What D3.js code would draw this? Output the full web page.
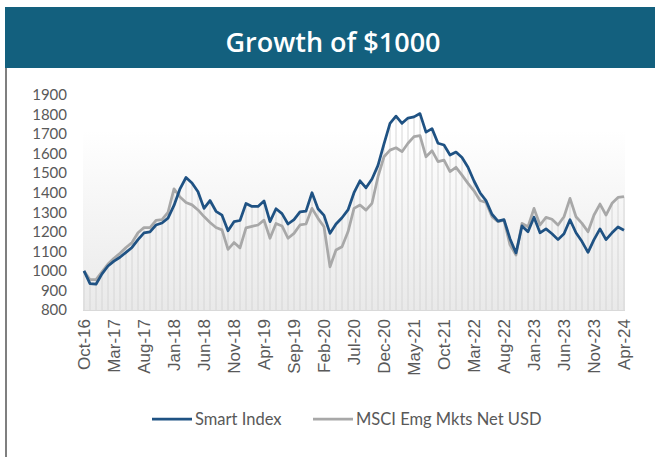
<!DOCTYPE html>
<html>
<head>
<meta charset="utf-8">
<script src="https://cdn.jsdelivr.net/npm/d3@7"></script>
<style>
  body { margin: 0; background: #fff; }
</style>
</head>
<body>
<div id="my_dataviz"></div>
<script>
// monthly values, Oct-16 .. Apr-24
var smartIndex = [1000,935,932,985,1025,1050,1070,1095,1120,1160,
  1195,1200,1235,1245,1270,1335,1420,1478,1450,1405,
  1320,1360,1305,1285,1205,1252,1258,1345,1330,1330,
  1358,1252,1318,1293,1240,1262,1302,1306,1400,1318,
  1284,1192,1240,1272,1312,1400,1461,1425,1470,1540,
  1650,1755,1792,1755,1782,1788,1805,1710,1728,1653,
  1644,1593,1608,1580,1530,1460,1400,1360,1290,1255,
  1262,1165,1092,1230,1200,1275,1195,1215,1190,1160,
  1190,1262,1195,1150,1095,1160,1215,1160,1195,1225,1208];

var msciEM = [1000,955,955,995,1035,1065,1090,1120,1145,1195,
  1222,1222,1258,1262,1300,1420,1378,1350,1338,1312,
  1278,1248,1222,1210,1110,1145,1118,1220,1228,1235,
  1260,1167,1243,1230,1167,1192,1235,1240,1320,1269,
  1226,1021,1107,1124,1200,1320,1337,1311,1346,1482,
  1584,1618,1630,1610,1653,1687,1692,1584,1615,1559,
  1567,1508,1530,1490,1448,1410,1360,1350,1277,1252,
  1260,1133,1081,1243,1226,1320,1235,1274,1264,1235,
  1277,1371,1277,1243,1200,1286,1342,1286,1346,1376,1380];

var tickLabels = ["Oct-16","Mar-17","Aug-17","Jan-18","Jun-18","Nov-18","Apr-19",
  "Sep-19","Feb-20","Jul-20","Dec-20","May-21","Oct-21","Mar-22","Aug-22",
  "Jan-23","Jun-23","Nov-23","Apr-24"];
var yTicks = [800,900,1000,1100,1200,1300,1400,1500,1600,1700,1800,1900];
var seriesNames = ["Smart Index", "MSCI Emg Mkts Net USD"];
var seriesColors = ["#1f5283", "#a8a8a8"];

var W = 655, H = 457;
var idx = smartIndex.map(function(d, i) { return i; });

var svg = d3.select("#my_dataviz")
  .append("svg")
    .attr("width", W)
    .attr("height", H);

// title bar + left frame line
svg.append("rect")
  .attr("x", 5).attr("y", 7)
  .attr("width", W - 5).attr("height", 61)
  .attr("fill", "#13607e");
svg.append("text")
  .attr("x", 333).attr("y", 52)
  .attr("text-anchor", "middle")
  .style("font-family", "Open Sans, sans-serif")
  .style("font-weight", 600)
  .style("font-size", "27px")
  .attr("fill", "#fff")
  .text("Growth of $1000");
svg.append("line")
  .attr("x1", 6).attr("x2", 6)
  .attr("y1", 68).attr("y2", H)
  .attr("stroke", "#7f7f7f")
  .attr("stroke-width", 2);

// scales
var x = d3.scalePoint()
  .domain(idx)
  .range([84, 624]);
var y = d3.scaleLinear()
  .domain([800, 1900])
  .range([310, 95]);

// plot area gradient
var defs = svg.append("defs");
var grad = defs.append("linearGradient")
  .attr("id", "bg")
  .attr("x1", 0).attr("y1", 0).attr("x2", 0).attr("y2", 1);
grad.append("stop").attr("offset", "0%").attr("stop-color", "#ffffff");
grad.append("stop").attr("offset", "100%").attr("stop-color", "#e9e9e9");

svg.append("rect")
  .attr("x", 83).attr("y", 130)
  .attr("width", 542).attr("height", y(800) - 130 + 1)
  .attr("fill", "url(#bg)");

// drop lines
svg.selectAll("dropLines")
  .data(idx)
  .enter()
  .append("line")
    .attr("x1", function(i) { return x(i) })
    .attr("x2", function(i) { return x(i) })
    .attr("y1", y(800))
    .attr("y2", function(i) { return y(Math.max(smartIndex[i], msciEM[i])) })
    .attr("stroke", "#d6d6d6")
    .attr("stroke-width", 1);

svg.append("line")
  .attr("x1", 83).attr("x2", 625)
  .attr("y1", y(800) + 0.5).attr("y2", y(800) + 0.5)
  .attr("stroke", "#d9d9d9");

// y axis labels
var yAxis = svg.append("g")
  .attr("transform", "translate(67,0)")
  .call(d3.axisLeft(y).tickValues(yTicks).tickSize(0).tickPadding(0).tickFormat(d3.format("d")));
yAxis.select(".domain").remove();
yAxis.selectAll("text")
  .style("font-family", "Lato, sans-serif")
  .style("font-size", "15px")
  .attr("fill", "#595959");

// x axis labels, every 5th month
var xAxis = svg.append("g")
  .attr("transform", "translate(0," + (y(800) + 9) + ")")
  .call(d3.axisBottom(x)
    .tickValues(idx.filter(function(i) { return i % 5 == 0 }))
    .tickSize(0)
    .tickFormat(function(i) { return tickLabels[i / 5] }));
xAxis.select(".domain").remove();
xAxis.selectAll("text")
  .attr("transform", "rotate(-90)")
  .attr("x", 0).attr("y", 0).attr("dy", "0.35em")
  .style("text-anchor", "end")
  .style("font-family", "Liberation Sans, Arial, sans-serif")
  .style("font-size", "17px")
  .attr("fill", "#595959");

// the two lines
var line = function(vals) {
  return d3.line()
    .x(function(d, i) { return x(i) })
    .y(function(d) { return y(d) })(vals);
};
svg.append("path")
  .attr("d", line(msciEM))
  .attr("fill", "none")
  .attr("stroke", seriesColors[1])
  .attr("stroke-width", 2.75)
  .attr("stroke-linejoin", "round");
svg.append("path")
  .attr("d", line(smartIndex))
  .attr("fill", "none")
  .attr("stroke", seriesColors[0])
  .attr("stroke-width", 2.75)
  .attr("stroke-linejoin", "round");

// legend
var legX = [152, 313];
seriesNames.forEach(function(name, k) {
  svg.append("line")
    .attr("x1", legX[k]).attr("x2", legX[k] + 40)
    .attr("y1", 419).attr("y2", 419)
    .attr("stroke", seriesColors[k])
    .attr("stroke-width", 2.75);
  svg.append("text")
    .attr("x", legX[k] + 43).attr("y", 419)
    .attr("dy", "0.35em")
    .style("font-family", "Lato, sans-serif")
    .style("font-size", "16.5px")
    .attr("fill", "#595959")
    .text(name);
});
</script>
</body>
</html>
